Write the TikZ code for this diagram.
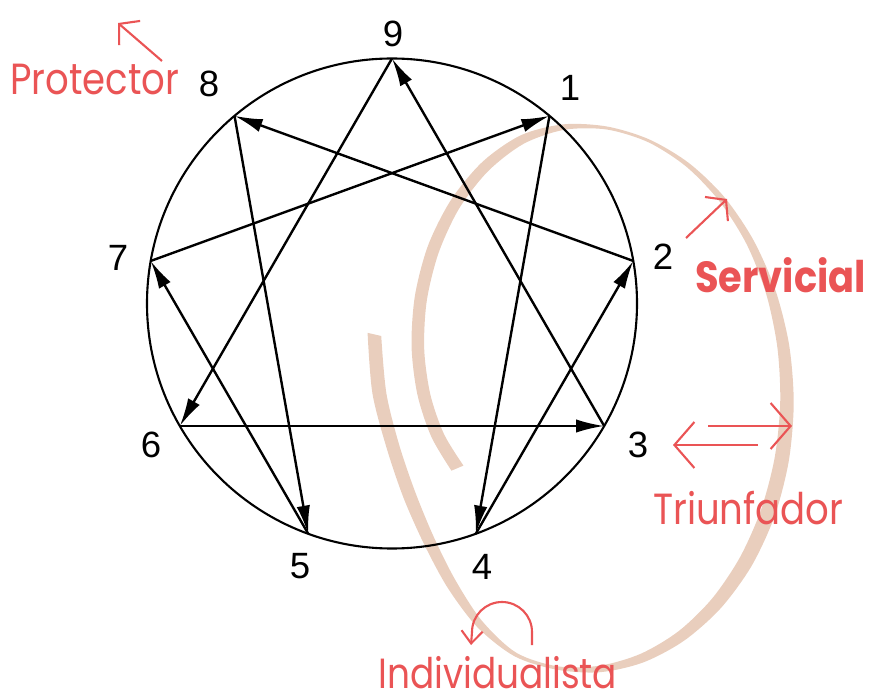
\documentclass[tikz,border=0pt]{standalone}
\usepackage{fontspec}
\usetikzlibrary{arrows.meta,calc}
\newfontfamily\numfont{Liberation Sans}
\newfontfamily\notefont[FakeStretch=0.85]{Poppins}
\newfontfamily\notebold[FakeStretch=0.88]{Poppins Bold}
\definecolor{notered}{RGB}{234,84,85}
\definecolor{brushtan}{RGB}{233,206,189}

\begin{document}
\begin{tikzpicture}[x=0.025cm, y=-0.025cm,
  ring/.style={line width=1.5pt},
  edge/.style={line width=1.7pt, -{Latex[length=20pt, width=9.5pt]}},
  num/.style={font=\numfont\fontsize{26}{30}\selectfont, inner sep=0},
  note/.style={font=\notefont\fontsize{31}{36}\selectfont, text=notered, inner sep=0, anchor=base west},
  pointer/.style={draw=notered, line width=1.5pt}]
  \useasboundingbox (0,0) rectangle (870,695);
  %% Brush stroke: a loose spiral round (582,398), angle and width (px)
  \foreach \i/\t/\w in {1/157/13,2/169/13,3/181/13,4/193/13,5/205/13,6/217/13,7/229/12,8/241/11,
      9/253/9,10/265/5.5,11/277/3,12/289/3,13/301/4.5,14/313/6.5,15/325/8,16/337/10,17/349/12,
      18/361/13.5,19/373/14.5,20/385/15,21/397/14.5,22/409/13,23/421/11,24/433/9,25/445/6.5,
      26/457/3.5,27/469/4,28/481/8,29/493/11,30/505/12,31/517/13,32/529/13,33/541/14,34/553/14}{
    \pgfmathsetmacro\rampin{max(0,(260-\t)/103)}
    \pgfmathsetmacro\dip{max(0,1-((\t-510)/45)*((\t-510)/45))}
    \pgfmathsetmacro\scl{1-0.34*\rampin*sqrt(\rampin)-0.09*\dip*\dip+0.04*max(0,(\t-535)/18)}
    \coordinate (e\i) at ({582+(205*\scl+\w/2)*cos(\t)},{398+(272*\scl+\w/2)*sin(\t)});
    \coordinate (f\i) at ({582+(205*\scl-\w/2)*cos(\t)},{398+(272*\scl-\w/2)*sin(\t)});
  }
  \fill[brushtan] plot[smooth] coordinates {(e1) (e2) (e3) (e4) (e5) (e6) (e7) (e8) (e9) (e10)
      (e11) (e12) (e13) (e14) (e15) (e16) (e17) (e18) (e19) (e20) (e21) (e22) (e23) (e24) (e25)
      (e26) (e27) (e28) (e29) (e30) (e31) (e32) (e33) (e34)}
    -- plot[smooth] coordinates {(f34) (f33) (f32) (f31) (f30) (f29) (f28) (f27) (f26) (f25)
      (f24) (f23) (f22) (f21) (f20) (f19) (f18) (f17) (f16) (f15) (f14) (f13) (f12) (f11) (f10)
      (f9) (f8) (f7) (f6) (f5) (f4) (f3) (f2) (f1)} -- cycle;
  %% Enneagram
  \coordinate (c) at (392,303.5);
  \draw[ring] (c) circle[radius=245];
  \foreach \n/\a in {9/90,1/50,2/10,3/-30,4/-70,5/-110,6/-150,7/170,8/130}
    \coordinate (p\n) at ({392+245*cos(\a)},{303.5-245*sin(\a)});
  \foreach \n/\x/\y in {9/393/34,1/570/88,2/663/257,3/638/445,4/482/567,5/300/566,6/151/445,
      7/118/258,8/209/84}
    \node[num] (l\n) at (\x,\y) {\n};
  \foreach \s/\t in {1/4,4/2,2/8,8/5,5/7,7/1,9/6,6/3,3/9}
    \draw[edge] (p\s) -- (p\t);
  %% Notes
  \node[note] (protector) at (10,95) {Protector};
  \node[note, font=\notebold\fontsize{31}{36}\selectfont] (servicial) at (695,293) {Servicial};
  \node[note] (triunfador) at (653,524) {Triunfador};
  \node[note, font=\notefont\fontsize{30}{36}\selectfont] (individualista) at (378,688) {Individualista};
  \coordinate (protTail) at (162,61);  \coordinate (protTip) at (118,23);
  \coordinate (servTail) at (686,238); \coordinate (servTip) at (727,199);
  \coordinate (leftTail) at (758,445); \coordinate (leftTip) at (673,445);
  \coordinate (rightTail) at (708,426); \coordinate (rightTip) at (792,426);
  \coordinate (curlTail) at (532,645); \coordinate (curlTip) at (471,645);
  \draw[pointer, -{Straight Barb[length=0.35cm, width=0.8cm]}] (protTail) -- (protTip);
  \draw[pointer, -{Straight Barb[length=0.33cm, width=0.83cm]}] (servTail) -- (servTip);
  \draw[pointer, -{Straight Barb[length=0.5cm, width=1.15cm]}] (leftTail) -- (leftTip);
  \draw[pointer, -{Straight Barb[length=0.5cm, width=1.15cm]}] (rightTail) -- (rightTip);
  \draw[pointer, -{Straight Barb[length=0.31cm, width=0.53cm]}] (curlTail) -- ++(0,-13)
    arc[start angle=0, end angle=-180, radius=30] -- (curlTip);
\end{tikzpicture}
\end{document}
